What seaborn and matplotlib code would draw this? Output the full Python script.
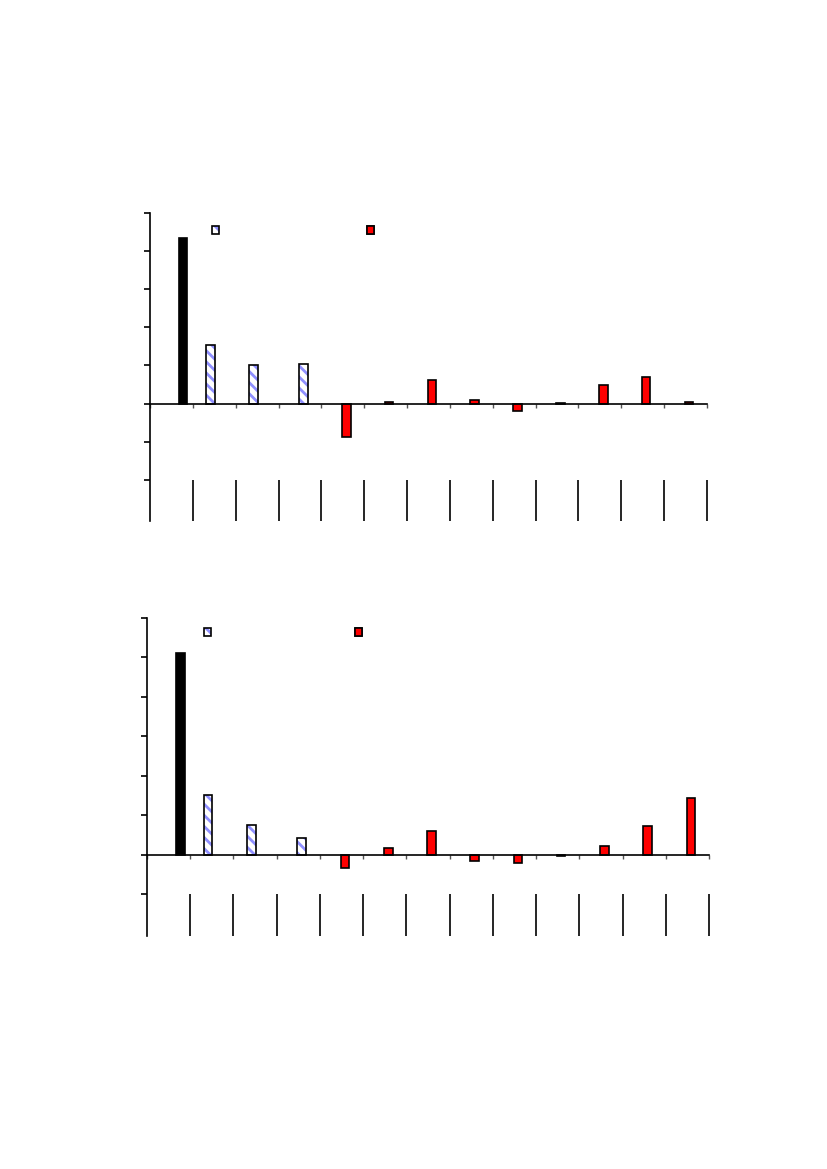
import numpy as np
import pandas as pd
import seaborn as sns
import matplotlib.pyplot as plt
from matplotlib.patches import Patch, Rectangle
from matplotlib.legend_handler import HandlerTuple

# DATA (units = y tick steps)
categories = [str(i) for i in range(1, 14)]
series = ["base", "hatch", "hatch", "hatch", "red", "red", "red",
          "red", "red", "red", "red", "red", "red"]
values_top = [4.34, 1.53, 1.00, 1.05, -0.87, 0.05, 0.63,
              0.10, -0.20, 0.02, 0.50, 0.71, 0.03]
values_bottom = [5.11, 1.52, 0.76, 0.43, -0.33, 0.18, 0.61,
                 -0.17, -0.20, -0.03, 0.23, 0.73, 1.44]

# style: where each bar sits inside its category slot
bar_shift = [0.27, -0.09, -0.09, 0.08] + [0.08] * 9

colors = {"base": "black", "hatch": "white", "red": "#ff0000"}
hatch_color = "#9090ff"
HATCH = "\\\\\\"

sns.set_theme(style="white")
plt.rcParams["hatch.linewidth"] = 2.0

fig = plt.figure(figsize=(8.27, 11.69), dpi=100)


def draw_panel(ax, values, ymax, ylow, leg_pos):
    df = pd.DataFrame({"cat": categories, "value": values})
    sns.barplot(data=df, x="cat", y="value", color="red", width=0.2,
                edgecolor="black", linewidth=1.2, ax=ax, errorbar=None)
    for p, s, dx in zip(list(ax.patches), series, bar_shift):
        p.set_x(p.get_x() + dx)
        p.set_facecolor(colors[s])
        if s == "hatch":
            p.set_hatch(HATCH)
            p.set_edgecolor(hatch_color)
            p.set_linewidth(0)
            ax.add_patch(Rectangle(p.get_xy(), p.get_width(), p.get_height(),
                                   fill=False, ec="black", lw=1.2))

    bounds = np.arange(-0.5, len(categories), 1.0)
    ax.set_xlim(-0.5, len(categories) - 0.5)
    ax.set_ylim(ylow, ymax)
    ax.set_yticks(np.arange(-2 if ylow < -3 else -1, ymax + 1))
    ax.set_xticks(bounds)
    ax.set_xticklabels([])
    ax.set_yticklabels([])
    ax.set_xlabel("")
    ax.set_ylabel("")

    for side in ["top", "right"]:
        ax.spines[side].set_visible(False)
    ax.spines["left"].set_color("black")
    ax.spines["left"].set_linewidth(1.2)
    ax.spines["bottom"].set_position(("data", 0))
    ax.spines["bottom"].set_color("black")
    ax.spines["bottom"].set_linewidth(1.2)
    ax.tick_params(axis="y", direction="out", length=4, width=1.2,
                   color="black", left=True)
    ax.tick_params(axis="x", direction="out", length=3, width=1,
                   color="#555555", bottom=True)

    # category separators below the plot area
    sep_top = ax.get_yticks()[0]
    ax.vlines(bounds[1:], ylow, sep_top, color="black", lw=1.2, clip_on=False)

    h_fill = Patch(facecolor="white", edgecolor=hatch_color, hatch=HATCH, lw=0)
    h_edge = Patch(facecolor="none", edgecolor="black", lw=1.2)
    h_red = Patch(facecolor="#ff0000", edgecolor="black", lw=1.2)
    for handle, pos in zip([(h_fill, h_edge), h_red], leg_pos):
        leg = ax.legend(handles=[handle], labels=[""], loc="center",
                        bbox_to_anchor=pos, frameon=False,
                        handlelength=0.5, handleheight=0.5, handletextpad=0,
                        borderpad=0, fontsize=10,
                        handler_map={tuple: HandlerTuple(ndivide=1, pad=0)})
        ax.add_artist(leg)


ax1 = fig.add_axes([150 / 827, 1 - 521 / 1169, 557 / 827, 308 / 1169])
draw_panel(ax1, values_top, 5, -3.08, [(0.118, 0.943), (0.396, 0.943)])

ax2 = fig.add_axes([147 / 827, 1 - 936 / 1169, 562 / 827, 318 / 1169])
draw_panel(ax2, values_bottom, 6, -2.06, [(0.107, 0.953), (0.377, 0.953)])

fig.savefig("out.png", dpi=100)
